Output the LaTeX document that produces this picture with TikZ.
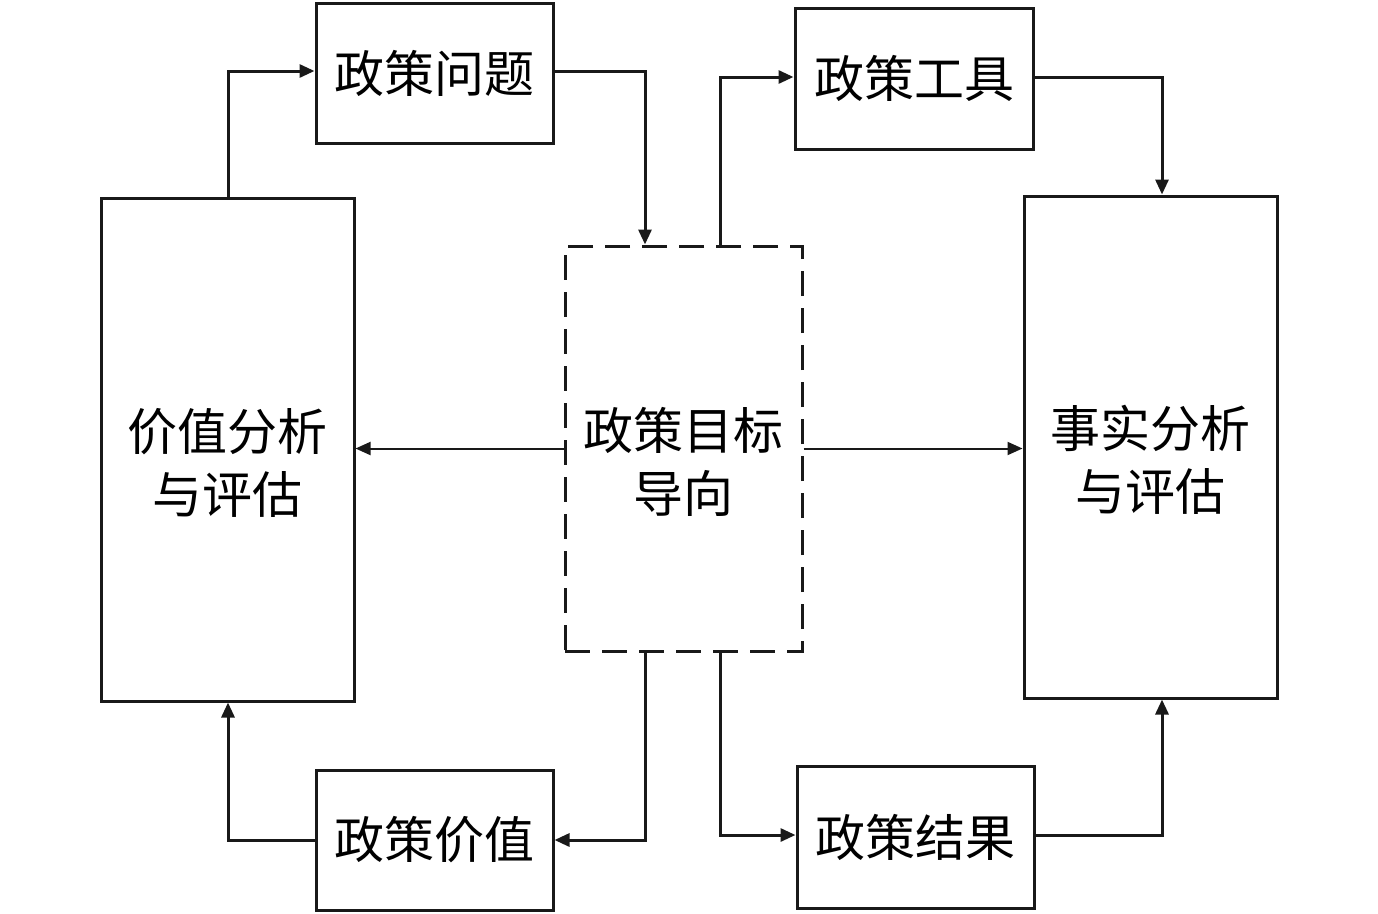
\documentclass[tikz,border=0pt]{standalone}
\usepackage{fontspec}
\newfontfamily\cjk{Noto Sans CJK SC}
\usetikzlibrary{arrows.meta}
\begin{document}
\begin{tikzpicture}[x=1pt,y=-1pt,
  box/.style={draw=black!90,line width=3pt,inner sep=0pt,align=center,
    font=\cjk\fontsize{50}{63}\selectfont},
  tall/.style={label={[font=\cjk\fontsize{50}{63}\selectfont,align=center,yshift=-13pt]center:#1}},
  conn/.style={line width=3pt,draw=black!90,-{Triangle[length=15pt,width=13pt]}},
  thinconn/.style={line width=2pt,draw=black!90,-{Triangle[length=15pt,width=13pt]}}]
\useasboundingbox (0,0) rectangle (1378,913);
\node[box,minimum width=237pt,minimum height=140pt] (wt) at (434.5,73) {政策问题};
\node[box,minimum width=238pt,minimum height=141pt] (gj) at (914,78.5) {政策工具};
\node[box,minimum width=253pt,minimum height=503pt,tall={价值分析\\与评估}] (jz) at (227.5,449.5) {};
\node[box,minimum width=253pt,minimum height=502pt,tall={事实分析\\与评估}] (ss) at (1150.5,447) {};
\node[box,dashed,dash pattern=on 25pt off 12pt,minimum width=237pt,minimum height=405pt,tall={政策目标\\导向}] (mb) at (683.5,448.5) {};
\node[box,minimum width=237pt,minimum height=140pt] (jzv) at (434.5,840) {政策价值};
\node[box,minimum width=237pt,minimum height=142pt] (jg) at (915.5,837) {政策结果};
\coordinate (c1) at (228,71);
\coordinate (c2) at (645,71);
\coordinate (c3) at (720,77);
\coordinate (c4) at (1162,77);
\coordinate (c5) at (645,840);
\coordinate (c6) at (228,840);
\coordinate (c7) at (720,835);
\coordinate (c8) at (1162,835);
\draw[conn] (jz.north -| c1) -- (c1) -- (c1 -| wt.west);
\draw[conn] (wt.east |- c2) -- (c2) -- (c2 |- mb.north);
\draw[conn] (mb.north -| c3) -- (c3) -- (c3 -| gj.west);
\draw[conn] (gj.east |- c4) -- (c4) -- (c4 |- ss.north);
\draw[thinconn] (mb.west) -- (mb.west -| jz.east);
\draw[thinconn] (mb.east) -- (mb.east -| ss.west);
\draw[conn] (mb.south -| c5) -- (c5) -- (c5 -| jzv.east);
\draw[conn] (jzv.west |- c6) -- (c6) -- (c6 |- jz.south);
\draw[conn] (mb.south -| c7) -- (c7) -- (c7 -| jg.west);
\draw[conn] (jg.east |- c8) -- (c8) -- (c8 |- ss.south);
\end{tikzpicture}
\end{document}
